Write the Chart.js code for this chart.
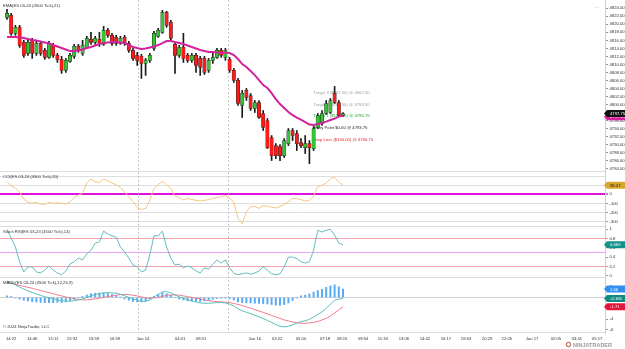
<!DOCTYPE html>
<html>
<head>
<meta charset="utf-8">
<script src="https://cdn.jsdelivr.net/npm/chart.js@4.4.0/dist/chart.umd.min.js"></script>
<style>
  html, body { margin: 0; padding: 0; background: #fff; }
  #wrap { width: 625px; height: 349px; }
</style>
</head>
<body>
<div id="wrap"><canvas id="chart"></canvas></div>
<script>
// --- price bars (4500 tick) ---
const barOpen = [4821.75,4822.25,4817.75,4819.25,4815.5,4812.75,4816,4812.75,4815.25,4813.5,
  4811.75,4814.75,4812.25,4811.25,4808.5,4810.75,4812,4814.5,4812.75,4814.25,
  4816.25,4815.5,4816.25,4815,4818.5,4817.25,4816.75,4815.25,4816.75,4815.25,
  4813.5,4812.25,4812,4810.25,4811,4814,4817,4818,4823,4820.5,
  4815,4812.25,4814.25,4812.25,4811,4812.25,4811.5,4811.5,4808.5,4811,
  4811.75,4813.5,4811.75,4811.25,4808.5,4806,4799.75,4803.5,4802.25,4799,
  4800.5,4797.75,4796,4791.75,4789.75,4789.5,4787.25,4790.25,4793.5,4792.75,
  4790.5,4789.25,4790.25,4789,4794.25,4795.25,4797.75,4798,4802.75,4800.5,
  4797.25];
const barHigh = [4823.75,4822.75,4819.75,4819.75,4816,4816,4816.5,4815.75,4815.5,4814,
  4815.75,4815.25,4812.75,4812,4811.5,4812.75,4815,4815,4816,4817,
  4818,4817,4818,4819.5,4819,4817.75,4817.25,4817,4817.25,4815.75,
  4814,4813,4812.5,4811.5,4812.75,4818.25,4819,4823.5,4823.25,4821,
  4815.25,4814.75,4817.75,4812.75,4812.75,4812.75,4812,4812,4811.5,4812.75,
  4814,4814,4814,4811.75,4809,4806.5,4803.5,4804,4802.75,4801,
  4801,4798.5,4796.5,4792.25,4790.25,4790,4791.5,4794,4794,4793.5,
  4791.5,4792.25,4791,4794.5,4797.75,4798.5,4801,4801.5,4804.5,4801,
  4798];
const barLow = [4821.25,4817.25,4817.25,4814.25,4811.75,4812.25,4811.5,4812.25,4812.25,4811.25,
  4811.5,4811.75,4810.5,4807.75,4808,4810.5,4811.5,4813,4812.25,4814,
  4815,4815,4814.5,4814.75,4816.75,4814.75,4814.75,4815,4814.75,4813,
  4811,4809.75,4806.5,4807.25,4810.5,4813.5,4816.75,4817.75,4819.25,4816,
  4807.75,4811.75,4810.5,4810.5,4810.5,4808,4807.25,4807.5,4808,4810.25,
  4811.5,4811.75,4811,4808,4805.5,4799.75,4796.75,4801,4798.5,4798,
  4796.5,4793.5,4789,4786,4786.5,4786,4786.75,4789.75,4791,4788.5,
  4789.25,4787.75,4785.25,4788.5,4794,4794.75,4797.5,4797.75,4800.25,4797,
  4797];
const barClose = [4822.75,4817.75,4819.25,4814.75,4812.25,4815.5,4812.75,4815.25,4812.75,4811.75,
  4815.25,4812.25,4811.25,4808.5,4811,4812.25,4814.5,4813.5,4814.75,4816.5,
  4815.5,4816.5,4815.25,4818.5,4817.25,4815.25,4815.25,4816.5,4815.25,4813.5,
  4811.5,4811,4810.25,4811,4812.25,4817.75,4818.5,4823,4819.75,4816.5,
  4812.25,4814.25,4811.5,4811,4812.25,4809.75,4809.25,4808,4811,4811.75,
  4813.5,4812.25,4813.5,4808.5,4806,4800.25,4802.75,4801.75,4799,4800.5,
  4796.75,4794.25,4789.25,4787.25,4787.25,4787.25,4791,4793.5,4792.25,4790.25,
  4789.75,4790.25,4789.25,4794,4797.25,4797.75,4800.25,4801,4800.5,4797.25,
  4797.75];

// --- indicators ---
const emaValues = [4816.83,4816.83,4816.83,4816.71,4816.58,4816.33,4816.08,4815.96,4815.71,4815.46,
  4815.21,4814.83,4814.46,4814.09,4813.71,4813.34,4813.34,4813.46,4813.71,4814.09,
  4814.34,4814.71,4815.08,4815.33,4815.46,4815.58,4815.58,4815.46,4815.33,4814.83,
  4814.34,4814.09,4813.84,4813.96,4814.21,4814.46,4814.83,4815.33,4815.83,4815.83,
  4815.58,4815.33,4815.08,4814.71,4814.34,4813.96,4813.59,4813.34,4813.09,4813.09,
  4812.96,4812.84,4812.96,4812.84,4812.34,4811.34,4810.09,4809.34,4808.34,4807.34,
  4806.09,4804.85,4804.10,4802.85,4801.35,4800.10,4799.10,4798.10,4797.36,4796.73,
  4796.23,4795.61,4794.98,4794.86,4795.11,4795.36,4795.73,4796.11,4796.48,4796.98,
  4797.23];
const cciValues = [141,91,69,25,-52,-90,-96,-90,-107,-110,
  -90,-99,-90,-101,-107,-81,-35,-8,11,124,
  168,138,130,168,146,124,105,75,25,-24,
  -81,-140,-167,-156,-63,64,108,141,102,64,
  -19,-35,-63,-44,-57,-66,-74,-66,-59,-44,
  -35,-26,-13,-44,-85,-264,-319,-191,-136,-134,
  -154,-125,-129,-140,-151,-134,-112,-81,-44,-48,
  -57,-74,-68,-19,86,99,124,174,185,135,
  98.47];
const stochValues = [1.0,0.81,0.62,0.30,0.08,0.19,0.19,0.08,0.06,0.12,
  0.21,0.12,0.06,0.02,0.10,0.25,0.30,0.38,0.34,0.47,
  0.55,0.70,0.73,0.96,0.90,0.86,0.83,0.62,0.51,0.38,
  0.23,0.19,0.08,0.12,0.45,0.86,0.86,0.96,0.62,0.38,
  0.23,0.25,0.17,0.21,0.17,0.10,0.06,0.17,0.14,0.25,
  0.34,0.27,0.34,0.17,0.05,0.02,0.04,0.06,0.03,0.06,
  0.10,0.19,0.12,0.04,0.02,0.04,0.19,0.40,0.40,0.37,
  0.30,0.27,0.30,0.55,0.98,0.94,0.98,1.0,0.88,0.70,
  0.665];
const macdValues = [3.06,2.81,2.33,1.94,1.56,1.22,0.97,0.65,0.41,0.14,
  -0.04,-0.23,-0.42,-0.60,-0.69,-0.67,-0.61,-0.45,-0.24,0.01,
  0.35,0.54,0.72,0.87,0.92,0.85,0.78,0.59,0.32,0.04,
  -0.27,-0.50,-0.69,-0.72,-0.43,0.13,0.57,1.05,1.09,0.88,
  0.48,0.13,-0.15,-0.43,-0.63,-0.83,-1.01,-1.06,-1.07,-1.01,
  -0.94,-0.94,-1.00,-1.19,-1.54,-2.08,-2.45,-2.74,-2.98,-3.29,
  -3.58,-3.91,-4.24,-4.61,-4.99,-5.32,-5.45,-5.33,-5.07,-4.75,
  -4.46,-4.31,-4.05,-3.61,-3.13,-2.65,-1.97,-1.26,-0.50,-0.30,
  -0.165];
const macdAvg = [2.76,2.61,2.43,2.24,2.06,1.87,1.72,1.50,1.31,1.09,
  0.91,0.72,0.48,0.30,0.11,-0.07,-0.26,-0.35,-0.44,-0.44,
  -0.35,-0.26,-0.13,0.02,0.17,0.30,0.43,0.54,0.57,0.54,
  0.43,0.30,0.11,-0.07,-0.13,-0.07,0.02,0.20,0.39,0.48,
  0.48,0.43,0.30,0.17,0.02,-0.13,-0.26,-0.44,-0.57,-0.69,
  -0.76,-0.81,-0.87,-0.94,-1.09,-1.28,-1.50,-1.74,-1.98,-2.24,
  -2.48,-2.76,-3.04,-3.31,-3.59,-3.87,-4.15,-4.33,-4.52,-4.65,
  -4.76,-4.76,-4.70,-4.61,-4.43,-4.15,-3.87,-3.41,-2.85,-2.30,
  -1.71];
const macdHist = [0.3,0.2,-0.1,-0.3,-0.5,-0.65,-0.75,-0.85,-0.9,-0.95,
  -0.95,-0.95,-0.9,-0.9,-0.8,-0.6,-0.35,-0.1,0.2,0.45,
  0.7,0.8,0.85,0.85,0.75,0.55,0.35,0.05,-0.25,-0.5,
  -0.7,-0.8,-0.8,-0.65,-0.3,0.2,0.55,0.85,0.7,0.4,
  0.0,-0.3,-0.45,-0.6,-0.65,-0.7,-0.75,-0.62,-0.5,-0.32,
  -0.18,-0.13,-0.13,-0.25,-0.45,-0.8,-0.95,-1.0,-1.0,-1.05,
  -1.1,-1.15,-1.2,-1.3,-1.4,-1.45,-1.3,-1.0,-0.55,-0.1,
  0.3,0.45,0.65,1.0,1.3,1.5,1.9,2.15,2.35,2.0,
  1.56];

// --- axis ticks ---
const priceTicks = [4784,4786,4788,4790,4792,4794,4796,4798,4800,4802,4804,4806,4808,4810,4812,4814,4816,4818,4820,4822,4824];
const cciTicks = [-300,-200,-100,0,100,200];
const stochTicks = [0,0.2,0.4,0.5,0.6,0.8,1];
const macdTicks = [-6,-4,-2,0,2];
const tickPos = [1,6,11,15.5,20.7,25.7,32.4,41.2,46.2,59,64.3,70,75.7,79.8,84.8,89.5,94.5,99.5,104.5,109.3,114.3,119,125,130.7,135.7,140.5];
const tickText = ['14:22','14:46','15:11','15:32','15:59','16:59','Jan 14','04:41','08:31','Jan 16','03:22','05:00','07:18','08:15','09:54','11:30','13:06','14:42','16:17','18:03','20:29','22:05','Jan 17','02:05','03:41','05:17'];
const sessionBreaks = [31.2, 52.6];

// --- ATM strategy levels ---
const tradeText = ['Target 3 ($437.50) @ 4802.50','Target 2 ($287.50) @ 4799.50','Target 1 ($150.00) @ 4796.75','Entry Point $0.00 @ 4793.75','Stop Loss ($150.00) @ 4790.75'];
const tradePrices = [4802.5, 4799.5, 4796.75, 4793.75, 4790.75];
const tradeColors = ['#a0a0a0', '#a0a0a0', '#2c9a2c', '#222', '#e82020'];
const tradeBar = 73;

const idx = barClose.map((_, i) => i);
const pts = arr => arr.map((v, i) => ({ x: i, y: v }));
const FONT = 'Arial';
const SMALL = 4.2;

const titles = {
  yP: 'EMA(ES 03-24 (4500 Tick),21)',
  yC: 'CCI(ES 03-24 (4500 Tick),20)',
  yS: 'Stoch RSI(ES 03-24 (4500 Tick),14)',
  yM: 'MACD(ES 03-24 (4500 Tick),12,26,9)'
};

const last = a => a[a.length - 1];
const tags = [
  { axis: 'yP', value: last(emaValues) - 0.3, text: last(emaValues).toFixed(2), bg: '#d3239b', fg: '#fff' },
  { axis: 'yP', value: last(barClose), text: last(barClose).toFixed(2), bg: '#111', fg: '#fff' },
  { axis: 'yC', value: last(cciValues), text: last(cciValues).toFixed(2), bg: '#d8a62c', fg: '#222' },
  { axis: 'yS', value: last(stochValues), text: last(stochValues).toFixed(3), bg: '#14928a', fg: '#fff' },
  { axis: 'yM', value: last(macdHist), text: last(macdHist).toFixed(2), bg: '#2f90f0', fg: '#fff' },
  { axis: 'yM', value: last(macdValues), text: last(macdValues).toFixed(3), bg: '#12897f', fg: '#fff' },
  { axis: 'yM', value: last(macdAvg), text: last(macdAvg).toFixed(2), bg: '#e0163a', fg: '#fff' }
];

function drawTag(ctx, x, y, t) {
  ctx.fillStyle = t.bg;
  ctx.beginPath();
  ctx.moveTo(x - 3, y);
  ctx.lineTo(x, y - 3.5);
  ctx.lineTo(625, y - 3.5);
  ctx.lineTo(625, y + 3.5);
  ctx.lineTo(x, y + 3.5);
  ctx.closePath();
  ctx.fill();
  ctx.fillStyle = t.fg;
  ctx.font = SMALL + 'px ' + FONT;
  ctx.textAlign = 'left';
  ctx.textBaseline = 'middle';
  ctx.fillText(t.text, x + 3, y + 0.5);
}

const overlay = {
  id: 'overlay',
  beforeDatasetsDraw(chart) {
    const { ctx, chartArea, scales } = chart;
    ctx.save();
    // panel separators
    ctx.strokeStyle = '#dcdcdc';
    ctx.lineWidth = 1;
    ['yC', 'yS', 'yM'].forEach(id => {
      const y = Math.round(scales[id].top) + 0.5;
      ctx.beginPath(); ctx.moveTo(0, y); ctx.lineTo(chartArea.right, y); ctx.stroke();
    });
    ctx.beginPath(); ctx.moveTo(0, chartArea.bottom - 0.5); ctx.lineTo(chartArea.right, chartArea.bottom - 0.5); ctx.stroke();
    // session breaks
    ctx.strokeStyle = '#c4c4c4';
    ctx.setLineDash([2, 2]);
    sessionBreaks.forEach(b => {
      const x = Math.round(scales.x.getPixelForValue(b)) + 0.5;
      ctx.beginPath(); ctx.moveTo(x, chartArea.top); ctx.lineTo(x, chartArea.bottom); ctx.stroke();
    });
    ctx.setLineDash([]);
    // ATM strategy texts
    ctx.font = SMALL + 'px ' + FONT;
    ctx.textAlign = 'left';
    ctx.textBaseline = 'middle';
    const tx = scales.x.getPixelForValue(tradeBar);
    tradeText.forEach((t, i) => {
      ctx.fillStyle = tradeColors[i];
      ctx.fillText(t, tx, scales.yP.getPixelForValue(tradePrices[i]) - 1.5);
    });
    ctx.restore();
  },
  afterDraw(chart) {
    const { ctx, chartArea, scales } = chart;
    ctx.save();
    ctx.font = SMALL + 'px ' + FONT;
    ctx.fillStyle = '#333';
    ctx.textAlign = 'left';
    ctx.textBaseline = 'middle';
    Object.keys(titles).forEach(id => {
      ctx.fillText(titles[id], 3, scales[id].top + 5.5);
    });
    ctx.fillText('\u00A9 2024 NinjaTrader, LLC', 3, chartArea.bottom - 6);
    // arrow top right
    ctx.fillStyle = '#c8c8c8';
    ctx.font = '8px ' + FONT;
    ctx.textAlign = 'right';
    ctx.fillText('\u2190', 601, 7);
    // value tags
    tags.forEach(t => drawTag(ctx, chartArea.right + 2, scales[t.axis].getPixelForValue(t.value), t));
    // logo
    ctx.strokeStyle = '#b5433a';
    ctx.lineWidth = 1;
    ctx.beginPath(); ctx.arc(568.5, 344.5, 2.2, 0, Math.PI * 2); ctx.stroke();
    ctx.fillStyle = '#9a9a9a';
    ctx.font = 'bold 5.5px ' + FONT;
    ctx.textAlign = 'left';
    ctx.fillText('NINJATRADER', 573, 345);
    ctx.restore();
  }
};

function fitRight(scale) {
  scale.width = 20;
  scale.paddingTop = 0; scale.paddingBottom = 0;
}
const setTicks = list => scale => { scale.ticks = list.map(v => ({ value: v })); };

const axisTicks = { font: { family: FONT, size: SMALL }, color: '#333', padding: 1.5, autoSkip: false };

function near(v, t) { return Math.abs(v - t) < 1e-6; }

new Chart(document.getElementById('chart'), {
  type: 'bar',
  data: {
    datasets: [
      { type: 'line', label: 'EMA', yAxisID: 'yP', data: pts(emaValues), borderColor: '#d3239b', borderWidth: 2, pointRadius: 0, order: 0 },
      { label: 'Bodies', yAxisID: 'yP', data: idx.map(i => ({ x: i, y: [barOpen[i], barClose[i]] })),
        backgroundColor: idx.map(i => barClose[i] >= barOpen[i] ? '#33c533' : '#ff1a1a'),
        borderColor: '#2a2a2a', borderWidth: 0.5, borderSkipped: false, barThickness: 3.4, grouped: false, minBarLength: 1, order: 1 },
      { label: 'Wicks', yAxisID: 'yP', data: idx.map(i => ({ x: i, y: [barLow[i], barHigh[i]] })),
        backgroundColor: '#1a1a1a', barThickness: 1, grouped: false, order: 2 },
      { type: 'line', label: 'CCI', yAxisID: 'yC', data: pts(cciValues), borderColor: '#f3c680', borderWidth: 1, pointRadius: 0 },
      { type: 'line', label: 'StochRSI', yAxisID: 'yS', data: pts(stochValues), borderColor: '#62bcc0', borderWidth: 1, pointRadius: 0 },
      { type: 'line', label: 'MACD', yAxisID: 'yM', data: pts(macdValues), borderColor: '#5cbfb8', borderWidth: 1, pointRadius: 0, order: 0 },
      { type: 'line', label: 'Avg', yAxisID: 'yM', data: pts(macdAvg), borderColor: '#f07d8e', borderWidth: 1, pointRadius: 0, order: 0 },
      { label: 'Diff', yAxisID: 'yM', data: pts(macdHist), backgroundColor: '#55aaf5', barThickness: 1.3, grouped: false, order: 3 }
    ]
  },
  options: {
    responsive: true,
    maintainAspectRatio: false,
    animation: false,
    devicePixelRatio: 1,
    layout: { padding: 0 },
    plugins: { legend: { display: false }, tooltip: { enabled: false } },
    scales: {
      x: {
        type: 'linear', position: 'bottom', min: -1.667, max: 142.38, offset: false,
        grid: { display: false, offset: false, drawTicks: false, tickLength: 0 }, border: { display: false },
        ticks: { font: { family: FONT, size: SMALL }, color: '#333', padding: 3, autoSkip: false, maxRotation: 0, minRotation: 0,
          callback: (v, i) => tickText[i] },
        afterBuildTicks: setTicks(tickPos),
        afterFit: s => { s.height = 16; s.paddingLeft = 0; s.paddingRight = 0; }
      },
      yP: {
        type: 'linear', position: 'right', stack: 'panes', stackWeight: 171, weight: 1,
        min: 4783.4, max: 4826.07, beginAtZero: false,
        grid: { drawOnChartArea: false, tickLength: 3, tickColor: '#999' },
        border: { color: '#cfcfcf' },
        ticks: { ...axisTicks, callback: v => v.toFixed(2) },
        afterBuildTicks: setTicks(priceTicks),
        afterFit: fitRight
      },
      yC: {
        type: 'linear', position: 'right', stack: 'panes', stackWeight: 55, weight: 2,
        min: -348, max: 256, beginAtZero: false,
        grid: {
          tickLength: 3,
          color: c => near(c.tick.value, 0) ? '#e010e0' : '#dedede',
          lineWidth: c => near(c.tick.value, 0) ? 2 : 1,
          tickColor: c => c.tick.value > 0 ? 'transparent' : '#999'
        },
        border: { color: '#cfcfcf' },
        ticks: { ...axisTicks, callback: v => v > 0 ? '' : String(v) },
        afterBuildTicks: setTicks(cciTicks),
        afterFit: fitRight
      },
      yS: {
        type: 'linear', position: 'right', stack: 'panes', stackWeight: 51, weight: 3,
        min: -0.028, max: 1.071, beginAtZero: false,
        grid: {
          tickLength: 3,
          color: c => (near(c.tick.value, 0.2) || near(c.tick.value, 0.8)) ? '#f2a3aa' : near(c.tick.value, 0.5) ? '#eaa2f2' : 'transparent',
          tickColor: c => near(c.tick.value, 0.5) ? 'transparent' : '#999'
        },
        border: { color: '#cfcfcf' },
        ticks: { ...axisTicks, callback: v => near(v, 0.5) ? '' : String(v) },
        afterBuildTicks: setTicks(stochTicks),
        afterFit: fitRight
      },
      yM: {
        type: 'linear', position: 'right', stack: 'panes', stackWeight: 56, weight: 4,
        min: -6.57, max: 3.8, beginAtZero: false,
        grid: {
          tickLength: 3,
          color: c => near(c.tick.value, 0) ? '#cfcfcf' : 'transparent',
          tickColor: '#999'
        },
        border: { color: '#cfcfcf' },
        ticks: { ...axisTicks, callback: v => String(v) },
        afterBuildTicks: setTicks(macdTicks),
        afterFit: fitRight
      }
    }
  },
  plugins: [overlay]
});
</script>
</body>
</html>
